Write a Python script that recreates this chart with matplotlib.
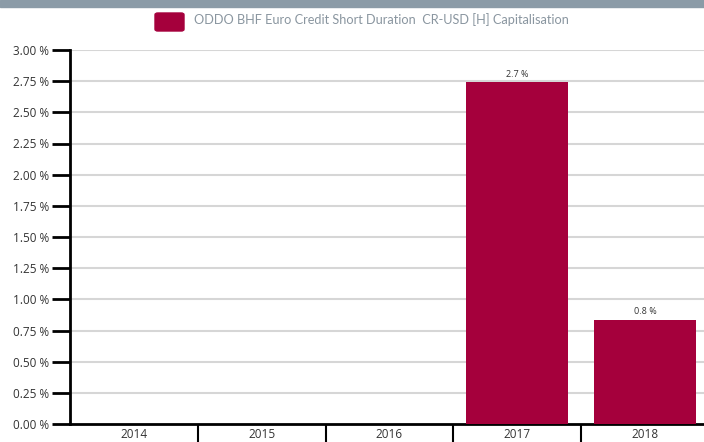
import matplotlib.pyplot as plt
from matplotlib.patches import Rectangle, FancyBboxPatch
from matplotlib.ticker import FixedLocator
import numpy as np

years = ['2014', '2015', '2016', '2017', '2018']
returns = [np.nan, np.nan, np.nan, 2.74, 0.834]
bar_labels = ['', '', '', '2.7 %', '0.8 %']
yticks = np.arange(0, 3.01, 0.25)
series_name = 'ODDO BHF Euro Credit Short Duration  CR-USD [H] Capitalisation'

bar_color = '#a5003c'
plt.rcParams['font.family'] = ['Open Sans', 'DejaVu Sans']

W, H = 704, 442
fig = plt.figure(figsize=(W / 100, H / 100), dpi=100)
ax = fig.add_axes([70 / W, 18 / H, 639 / W, 374 / H])

# top band
fig.patches.append(Rectangle((0, 1 - 7 / H), 1, 7 / H, transform=fig.transFigure,
                             color='#8b9ba7', zorder=0))

x = np.arange(len(years))
bars = ax.bar(x, returns, width=0.80, color=bar_color, zorder=3)
for xi, v, lab in zip(x, returns, bar_labels):
    if lab:
        ax.text(xi, v + 0.03, lab, ha='center', va='bottom', fontsize=6.5, color='#333333')

ax.set_xlim(-0.5, len(years) - 0.5)
ax.set_ylim(0, 3.0)
ax.set_yticks(yticks)
ax.set_yticklabels([f'{t:.2f} %' for t in yticks], fontsize=8.5, color='#333333')
ax.set_xticks(x)
ax.set_xticklabels(years, fontsize=8.5, color='#333333')
ax.xaxis.set_minor_locator(FixedLocator(np.arange(0.5, len(years) - 0.5, 1.0)))
ax.tick_params(axis='x', which='major', length=0, pad=3)
ax.tick_params(axis='x', which='minor', length=13, width=1.5, color='black', direction='out')
ax.tick_params(axis='y', length=13, width=2, color='black', pad=2)

for t in yticks[1:]:
    ax.axhline(t, color='#d6d6d6', linewidth=1.5, zorder=1)

for s in ['top', 'right']:
    ax.spines[s].set_visible(False)
ax.spines['left'].set_linewidth(2)
ax.spines['bottom'].set_linewidth(2)

# legend
fig.patches.append(FancyBboxPatch((155 / W, 1 - 31 / H), 29 / W, 18 / H,
                                  boxstyle='round,pad=0,rounding_size=0.004',
                                  transform=fig.transFigure, color=bar_color))
fig.text(194 / W, 1 - 20 / H, series_name, fontsize=9.2, color='#8a96a0',
         family=['Lato', 'DejaVu Sans'], ha='left', va='center')

plt.savefig('out.png', dpi=100)
